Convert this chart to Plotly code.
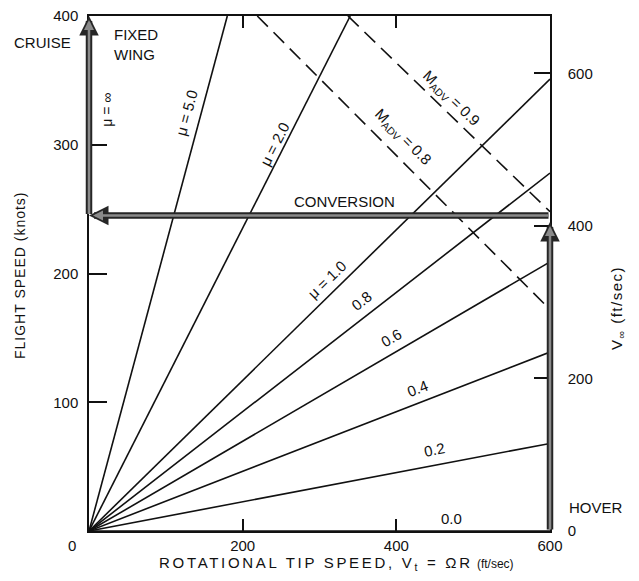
import plotly.graph_objects as go

KNOT_TO_FPS = 1.6878  # 1 knot in ft/sec

# Advance-ratio fan: every line starts at the origin and ends at these points
mu_labels = ["0.0", "0.2", "0.4", "0.6", "0.8", "μ = 1.0", "μ = 2.0", "μ = 5.0"]
mu_end_tip_speed = [600, 600, 600, 600, 600, 600, 340, 180]      # ft/sec
mu_end_flight_speed = [0, 68, 139, 209, 278, 351, 400, 400]      # knots

# Advancing-tip Mach number limits (start and end of each dashed line)
mach_labels = ["0.8", "0.9"]
mach_tip_speed = [[219, 600], [337, 600]]           # ft/sec
mach_flight_speed = [[400, 172], [400, 248]]        # knots

# Conversion corridor
conversion_speed = 245      # knots
hover_arrow_top = 240       # knots
cruise_speed = 400          # knots

x_ticks = [200, 400, 600]
y_ticks = [100, 200, 300, 400]
v_ticks = [0, 200, 400, 600]

FONT = "Liberation Sans, Arial, sans-serif"
BLACK = "#111111"

fig = go.Figure()

for lab, xe, ye in zip(mu_labels, mu_end_tip_speed, mu_end_flight_speed):
    fig.add_trace(go.Scatter(x=[0, xe], y=[0, ye], mode="lines",
                             line=dict(color=BLACK, width=1.6),
                             hoverinfo="skip", showlegend=False))

for lab, xs, ys in zip(mach_labels, mach_tip_speed, mach_flight_speed):
    fig.add_trace(go.Scatter(x=xs, y=ys, mode="lines",
                             line=dict(color=BLACK, width=1.6, dash="15px,8px"),
                             hoverinfo="skip", showlegend=False))

# invisible trace so the right-hand V-infinity axis is drawn
fig.add_trace(go.Scatter(x=[0, 600], y=[0, cruise_speed * KNOT_TO_FPS], yaxis="y2",
                         mode="lines", line=dict(width=0), opacity=0,
                         hoverinfo="skip", showlegend=False))

annotations = []

# thick grey flight-path arrows: dark outline layered under a lighter core
def corridor_arrow(x0, y0, x1, y1):
    annotations.append(dict(x=x1, y=y1, ax=x0, ay=y0, xref="x", yref="y",
                            axref="x", ayref="y", text="", showarrow=True,
                            arrowhead=2, arrowwidth=6.5, arrowsize=0.6,
                            arrowcolor="#262626"))
    annotations.append(dict(x=x1, y=y1, ax=x0, ay=y0, xref="x", yref="y",
                            axref="x", ayref="y", text="", showarrow=True,
                            arrowhead=2, arrowwidth=2.5, arrowsize=0.8,
                            standoff=4, arrowcolor="#8a8a8a"))

corridor_arrow(600, 0, 600, hover_arrow_top)
corridor_arrow(600, conversion_speed, 0, conversion_speed)
corridor_arrow(0, conversion_speed, 0, cruise_speed)


def label(x, y, text, ref="data", angle=0, size=15, **kw):
    xr, yr = ("x", "y") if ref == "data" else ("paper", "paper")
    d = dict(x=x, y=y, xref=xr, yref=yr, text=text, textangle=angle,
             showarrow=False, xanchor="center", yanchor="middle",
             font=dict(family=FONT, size=size, color=BLACK))
    d.update(kw)
    annotations.append(d)


# labels along the advance-ratio lines: (x, y, text angle)
mu_label_pos = [(472, 10, 0), (450, 63, -11), (427, 111, -21), (394, 150, -30),
                (355, 179, -38), (310, 195, -44), (242, 301, -63), (127, 325, -75)]
for lab, (lx, ly, ang) in zip(mu_labels, mu_label_pos):
    label(lx, ly, lab, angle=ang)

label(23, 327, "μ = ∞", angle=-90, size=14)

mach_label_pos = [(409, 306, 45), (471, 336, 44)]
for lab, (lx, ly, ang) in zip(mach_labels, mach_label_pos):
    label(lx, ly, "M<sub>ADV</sub> = " + lab, angle=ang)

label(333, 256, "CONVERSION")
label(30, 378, "FIXED<br>WING", xanchor="left", align="left")
label(-0.0998, 0.9495, "CRUISE", ref="paper")
label(1.0998, 0.0447, "HOVER", ref="paper")
label(-0.0369, -0.0272, "0", ref="paper")
label(0.536, -0.064,
      "<span style='letter-spacing:2.7px'>ROTATIONAL TIP SPEED, V<sub>t</sub> = ΩR</span> "
      "<span style='font-size:12px'>(ft/sec)</span>", ref="paper")
label(-0.1497, 0.497,
      "<span style='letter-spacing:1px'>FLIGHT SPEED (knots)</span>",
      ref="paper", angle=-90, size=14)
label(1.1453, 0.433,
      "<span style='letter-spacing:1.5px'>V<sub>∞</sub> (ft/sec)</span>",
      ref="paper", angle=-90, size=15)

axis_common = dict(showgrid=False, zeroline=False, showline=True,
                   linecolor=BLACK, linewidth=1.5, ticks="inside",
                   tickcolor=BLACK, tickwidth=1.5, automargin=False,
                   tickfont=dict(family=FONT, size=15, color=BLACK))

fig.update_layout(
    width=639, height=581,
    margin=dict(l=89, r=89, t=16, b=50),
    paper_bgcolor="white", plot_bgcolor="white",
    showlegend=False,
    annotations=annotations,
    xaxis=dict(range=[0, 600], tickvals=x_ticks, ticklen=12, mirror="ticks",
               ticklabelstandoff=0, **axis_common),
    yaxis=dict(range=[0, cruise_speed], tickvals=y_ticks, ticklen=18,
               ticklabelstandoff=6, **axis_common),
    yaxis2=dict(range=[0, cruise_speed * KNOT_TO_FPS], tickvals=v_ticks,
                ticklen=16, overlaying="y", side="right",
                ticklabelstandoff=13, **axis_common),
)

fig.write_html("out.html")
